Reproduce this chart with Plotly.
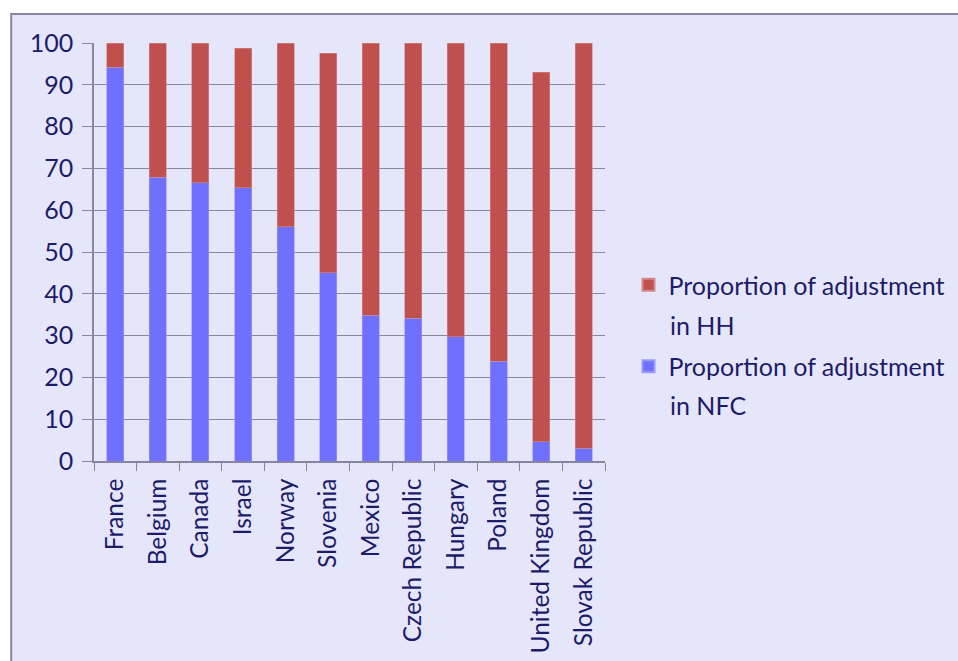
import plotly.graph_objects as go

countries = ["France", "Belgium", "Canada", "Israel", "Norway", "Slovenia", "Mexico",
             "Czech Republic", "Hungary", "Poland", "United Kingdom", "Slovak Republic"]
nfc = [94.2, 67.9, 66.6, 65.4, 56.1, 45.0, 34.9, 34.2, 29.7, 23.9, 4.6, 3.0]
hh = [5.8, 32.1, 33.4, 33.4, 43.9, 52.5, 65.1, 65.8, 70.3, 76.1, 88.4, 97.0]
y_ticks = [0, 10, 20, 30, 40, 50, 60, 70, 80, 90, 100]

font_family = "Lato, 'Open Sans', sans-serif"
text_col = "#1c1c6a"
panel = "#e6e6fa"
line_col = "#8686a2"

fig = go.Figure()
fig.add_trace(go.Bar(x=countries, y=nfc, name="Proportion of adjustment", legendgroup="nfc",
                     legendrank=2,
                     marker=dict(color="#7070ff", line=dict(color="#9a9af5", width=0.6))))
fig.add_trace(go.Bar(x=countries, y=hh, name="Proportion of adjustment", legendgroup="hh",
                     legendrank=1,
                     marker=dict(color="#c0504d", line=dict(color="#d08a8a", width=0.6))))

# second line of each legend label, spaced like the wrapped legend text
for txt, yp in [("in HH", 0.325), ("in NFC", 0.134)]:
    fig.add_annotation(text=txt, xref="paper", yref="paper", x=1.123, y=yp,
                       xanchor="left", yanchor="middle", showarrow=False,
                       font=dict(size=25, color=text_col))

# panel background with frame (plot area spans x 94..605, y 43..461 px)
fig.add_shape(type="rect", xref="paper", yref="paper", x0=-0.162, x1=1.75, y0=-0.6, y1=1.0694,
              fillcolor=panel, line=dict(color=line_col, width=2), layer="below")

fig.update_layout(
    width=958, height=661,
    margin=dict(l=94, r=353, t=43, b=200, autoexpand=False),
    paper_bgcolor="white", plot_bgcolor=panel,
    barmode="stack", bargap=0.6,
    font=dict(family=font_family, color=text_col, size=24),
    showlegend=True,
    legend=dict(x=1.046, y=0.476, xanchor="left", yanchor="top",
                bgcolor="rgba(0,0,0,0)", font=dict(size=25, color=text_col),
                itemsizing="constant", tracegroupgap=46),
    xaxis=dict(type="category", tickson="boundaries", ticks="outside", ticklen=8,
               tickcolor=line_col, tickangle=-90, showgrid=False, showline=True,
               linecolor=line_col, linewidth=1.5, ticklabelstandoff=6, automargin=False,
               tickfont=dict(size=24.5, color=text_col)),
    yaxis=dict(range=[0, 100], tickvals=y_ticks, ticks="outside", ticklen=10,
               tickcolor=line_col, showline=True, linecolor=line_col, linewidth=1.5,
               gridcolor=line_col, gridwidth=1.2, zeroline=False, automargin=False,
               ticklabelstandoff=4, tickfont=dict(size=25, color=text_col)),
)

fig.write_html("out.html")
